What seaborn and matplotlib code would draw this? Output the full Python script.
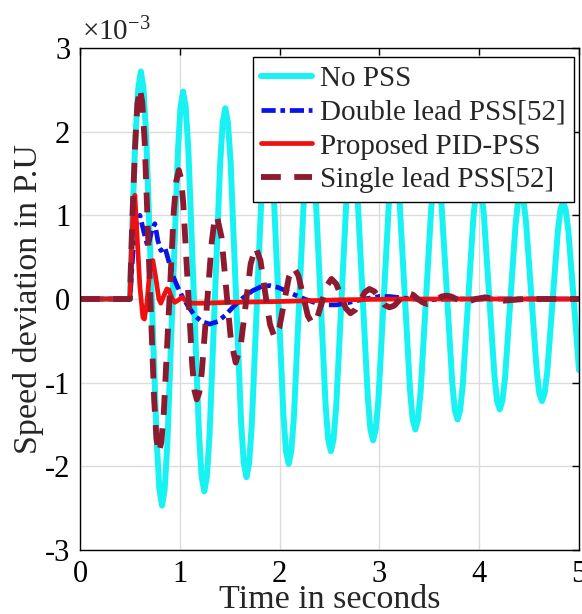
import matplotlib
matplotlib.use("Agg")
import matplotlib.pyplot as plt
import seaborn as sns
import pandas as pd

# ---------------- data (values in units of 1e-3 p.u.) ----------------
t_nopss = [0.000, 0.500, 0.528, 0.555, 0.583,
           0.610, 0.636, 0.663, 0.716, 0.769, 0.795,
           0.822, 0.848, 0.875, 0.928, 0.981, 1.007,
           1.033, 1.059, 1.086, 1.139, 1.192, 1.218,
           1.245, 1.271, 1.298, 1.351, 1.404, 1.430,
           1.456, 1.482, 1.509, 1.562, 1.615, 1.641,
           1.668, 1.694, 1.721, 1.774, 1.827, 1.853,
           1.879, 1.905, 1.932, 1.985, 2.038, 2.064,
           2.091, 2.117, 2.144, 2.197, 2.250, 2.276,
           2.302, 2.328, 2.355, 2.408, 2.461, 2.487,
           2.514, 2.540, 2.567, 2.620, 2.673, 2.699,
           2.725, 2.751, 2.778, 2.831, 2.884, 2.910,
           2.937, 2.963, 2.990, 3.043, 3.096, 3.122,
           3.148, 3.174, 3.201, 3.254, 3.307, 3.333,
           3.360, 3.386, 3.413, 3.466, 3.519, 3.545,
           3.571, 3.597, 3.624, 3.677, 3.730, 3.756,
           3.783, 3.809, 3.836, 3.889, 3.942, 3.968,
           3.994, 4.020, 4.047, 4.100, 4.153, 4.179,
           4.206, 4.232, 4.259, 4.312, 4.365, 4.391,
           4.417, 4.443, 4.470, 4.523, 4.576, 4.602,
           4.629, 4.655, 4.682, 4.735, 4.788, 4.814,
           4.840, 4.866, 4.893, 4.946, 5.000]
v_nopss = [0.00, 0.00, 1.04, 1.92, 2.51,
           2.72, 2.52, 1.96, 0.13, -1.71, -2.27,
           -2.47, -2.28, -1.74, 0.00, 1.76, 2.29,
           2.48, 2.30, 1.78, 0.09, -1.60, -2.12,
           -2.30, -2.13, -1.63, -0.01, 1.61, 2.11,
           2.28, 2.11, 1.64, 0.08, -1.49, -1.96,
           -2.13, -1.97, -1.51, -0.02, 1.48, 1.94,
           2.10, 1.95, 1.51, 0.07, -1.38, -1.82,
           -1.97, -1.82, -1.40, -0.01, 1.38, 1.80,
           1.95, 1.81, 1.40, 0.07, -1.27, -1.68,
           -1.82, -1.68, -1.29, -0.01, 1.27, 1.66,
           1.80, 1.67, 1.29, 0.06, -1.18, -1.56,
           -1.69, -1.56, -1.20, -0.02, 1.17, 1.53,
           1.66, 1.54, 1.19, 0.05, -1.09, -1.44,
           -1.56, -1.44, -1.11, -0.02, 1.08, 1.41,
           1.53, 1.42, 1.10, 0.05, -1.00, -1.33,
           -1.44, -1.33, -1.02, -0.02, 0.98, 1.29,
           1.40, 1.30, 1.00, 0.04, -0.92, -1.22,
           -1.32, -1.22, -0.94, -0.02, 0.90, 1.18,
           1.28, 1.19, 0.91, 0.03, -0.85, -1.13,
           -1.22, -1.13, -0.87, -0.03, 0.81, 1.07,
           1.16, 1.07, 0.82, 0.01, -0.85]

t_double = [0.00, 0.50, 0.53, 0.57, 0.60, 0.64, 0.68, 0.72, 0.75, 0.78, 0.81,
            0.85, 0.89, 0.93, 0.98, 1.02, 1.08, 1.15, 1.22, 1.30, 1.38, 1.46,
            1.53, 1.63, 1.73, 1.82, 1.90, 1.98, 2.06, 2.13, 2.25, 2.37, 2.47,
            2.57, 2.70, 2.85, 3.00, 3.10, 3.25, 3.45, 3.70, 4.20, 5.00]
v_double = [0.00, 0.00, 0.55, 0.92, 1.00, 0.80, 0.62, 0.82, 0.90, 0.70, 0.58,
            0.62, 0.45, 0.28, 0.14, 0.04, -0.08, -0.20, -0.27, -0.30, -0.27, -0.19,
            -0.10, 0.01, 0.10, 0.15, 0.16, 0.14, 0.10, 0.06, 0.00, -0.05, -0.07,
            -0.07, -0.04, 0.00, 0.03, 0.03, 0.01, -0.01, 0.00, 0.00, 0.00]

t_pid = [0.00, 0.50, 0.515, 0.535, 0.55, 0.57, 0.60, 0.63, 0.645, 0.67, 0.70,
         0.73, 0.76, 0.79, 0.81, 0.84, 0.87, 0.89, 0.92, 0.95, 0.99, 1.02,
         1.06, 1.12, 1.25, 1.50, 2.00, 2.60, 3.20, 5.00]
v_pid = [0.00, 0.00, 0.60, 1.15, 1.24, 0.80, 0.15, -0.22, -0.24, -0.05, 0.35,
         0.46, 0.25, 0.00, -0.05, 0.04, 0.12, 0.11, 0.01, -0.04, -0.01, 0.02,
         -0.02, -0.05, -0.05, -0.04, -0.03, -0.01, 0.00, 0.00]

t_single = [0.000, 0.500, 0.525, 0.550, 0.575,
            0.600, 0.624, 0.648, 0.695, 0.743, 0.766,
            0.790, 0.815, 0.840, 0.890, 0.940, 0.965,
            0.990, 1.013, 1.035, 1.080, 1.125, 1.148,
            1.170, 1.195, 1.220, 1.270, 1.320, 1.345,
            1.370, 1.418, 1.465, 1.513,
            1.560, 1.610, 1.660, 1.710,
            1.760, 1.808, 1.855, 1.903,
            1.950, 1.998, 2.045, 2.093,
            2.140, 2.188, 2.235, 2.283,
            2.330, 2.378, 2.425, 2.473,
            2.520, 2.568, 2.615, 2.663,
            2.710, 2.758, 2.805, 2.853,
            2.900, 2.950, 3.000, 3.050,
            3.100, 3.148, 3.195, 3.243,
            3.290, 3.338, 3.385, 3.433,
            3.480, 3.528, 3.575, 3.623,
            3.670, 3.720, 3.770, 3.820,
            3.870, 3.918, 3.965, 4.013,
            4.060, 4.108, 4.155, 4.203,
            4.250, 4.450, 5.000]
v_single = [0.00, 0.00, 0.96, 1.78, 2.33,
            2.52, 2.35, 1.88, 0.34, -1.20, -1.67,
            -1.84, -1.71, -1.35, -0.15, 1.05, 1.41,
            1.54, 1.44, 1.14, 0.17, -0.80, -1.10,
            -1.20, -1.12, -0.88, -0.10, 0.68, 0.92,
            1.00, 0.74, 0.12, -0.50,
            -0.76, -0.56, -0.07, 0.42,
            0.62, 0.46, 0.08, -0.30,
            -0.46, -0.34, -0.04, 0.26,
            0.38, 0.28, 0.04, -0.20,
            -0.30, -0.22, -0.03, 0.16,
            0.24, 0.18, 0.035, -0.11,
            -0.17, -0.13, -0.03, 0.08,
            0.12, 0.09, 0.01, -0.07,
            -0.10, -0.08, -0.02, 0.05,
            0.07, 0.05, 0.00, -0.04,
            -0.06, -0.05, -0.01, 0.03,
            0.04, 0.03, 0.00, -0.02,
            -0.03, -0.02, 0.00, 0.01,
            0.02, 0.01, 0.00, -0.01,
            -0.02, 0.00, 0.00]

labels = ["No PSS", "Double lead PSS[52]", "Proposed PID-PSS", "Single lead PSS[52]"]
x_ticks = [0, 1, 2, 3, 4, 5]
y_ticks = [-3, -2, -1, 0, 1, 2, 3]
y_ticklabels = ["-3", "-2", "-1", "0", "1", "2", "3"]

# ---------------- style ----------------
sns.set_style("white")
plt.rcParams["font.family"] = ["Liberation Serif", "DejaVu Serif"]
plt.rcParams["mathtext.fontset"] = "custom"
plt.rcParams["mathtext.rm"] = "Liberation Serif"
plt.rcParams["mathtext.it"] = "Liberation Serif:italic"
plt.rcParams["axes.unicode_minus"] = False

fig = plt.figure(figsize=(5.82, 6.14), dpi=100)
ax = fig.add_axes([80 / 582, 1 - 550 / 614, (579 - 80) / 582, (550 - 48) / 614])

df_nopss = pd.DataFrame({"t": t_nopss, "v": v_nopss})
df_double = pd.DataFrame({"t": t_double, "v": v_double})
df_pid = pd.DataFrame({"t": t_pid, "v": v_pid})
df_single = pd.DataFrame({"t": t_single, "v": v_single})

sns.lineplot(data=df_nopss, x="t", y="v", ax=ax, color="#19f2f2", lw=4.3,
             estimator=None, sort=False, label=labels[0])
sns.lineplot(data=df_double, x="t", y="v", ax=ax, color="#0a14e6", lw=3.4,
             estimator=None, sort=False, label=labels[1])
ax.lines[-1].set_dashes((3.0, 1.0, 1.0, 1.0))
ax.lines[-1].set_dash_capstyle("butt")
sns.lineplot(data=df_pid, x="t", y="v", ax=ax, color="#f01010", lw=3.4,
             estimator=None, sort=False, label=labels[2])
sns.lineplot(data=df_single, x="t", y="v", ax=ax, color="#8e1a30", lw=4.2,
             estimator=None, sort=False, label=labels[3])
ax.lines[-1].set_dashes((3.4, 2.3))
ax.lines[-1].set_dash_capstyle("butt")

ax.set_xlim(0, 5)
ax.set_ylim(-3, 3)
ax.set_xticks(x_ticks)
ax.set_yticks(y_ticks)
ax.set_yticklabels(y_ticklabels)
ax.grid(True, color="#dcdcdc", lw=1.0)
ax.set_axisbelow(True)
for s in ax.spines.values():
    s.set_color("black")
    s.set_linewidth(1.0)
    s.set_visible(True)
ax.tick_params(direction="in", length=5, width=1, top=True, right=True,
               labelsize=22, colors="black", pad=7)

ax.set_xlabel("Time in seconds", fontsize=24.5, labelpad=-3)
ax.set_ylabel("Speed deviation in P.U", fontsize=24.5, labelpad=1)

ax.text(0.005, 1.003, r"$\times\mathregular{10^{-3}}$", transform=ax.transAxes,
        fontsize=21, ha="left", va="bottom")

leg = ax.legend(loc="upper right", bbox_to_anchor=(0.99, 0.982), fontsize=21,
                frameon=True, fancybox=False, framealpha=1, edgecolor="black",
                borderaxespad=0, handlelength=1.75, handletextpad=0.25,
                labelspacing=0.25, borderpad=0.3)
leg.get_frame().set_linewidth(1.0)

fig.savefig("out.png", dpi=100)
